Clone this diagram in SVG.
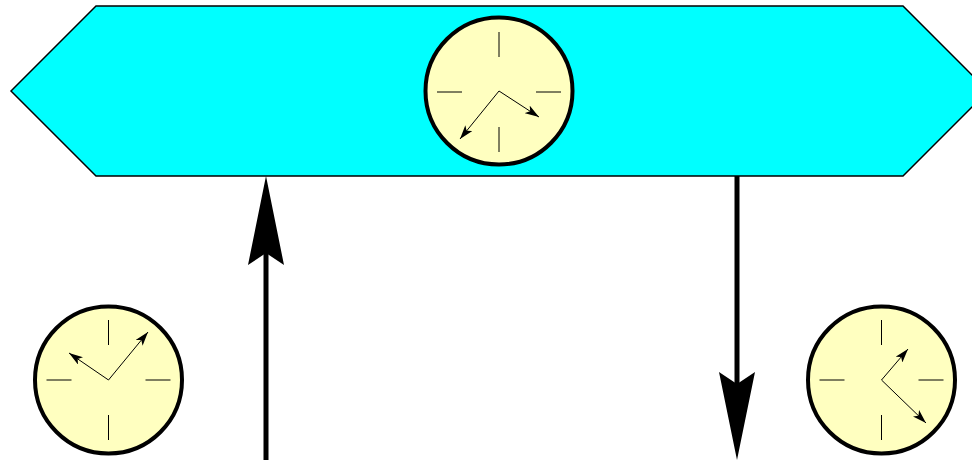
<svg xmlns="http://www.w3.org/2000/svg" width="972" height="460" viewBox="0 0 972 460">
<style>
.face{fill:#FFFFC0;stroke:#000;stroke-width:4}
.tick{stroke:#000;stroke-width:1}
.hand{stroke:#000;stroke-width:1;fill:none;marker-end:url(#sm)}
.big{stroke:#000;stroke-width:5;fill:none}
.head{fill:#000;stroke:none}
</style>
<defs>
<marker id="sm" viewBox="0 0 14 9" refX="14" refY="4.5" markerWidth="14" markerHeight="9" markerUnits="userSpaceOnUse" orient="auto">
<path d="M0,0 L14,4.5 L0,9 L3.5,4.5 Z" fill="#000"/>
</marker>
<g id="ticks">
<line class="tick" x1="0" y1="-60" x2="0" y2="-35"/>
<line class="tick" x1="0" y1="35" x2="0" y2="60"/>
<line class="tick" x1="-62" y1="0" x2="-37" y2="0"/>
<line class="tick" x1="37" y1="0" x2="62" y2="0"/>
</g>
</defs>
<g id="hexagon">
<polygon points="11,91 96,6 903,6 988,91 903,176 96,176" fill="#00FFFF" stroke="#000" stroke-width="1.5"/>
</g>
<g id="clock-top">
<circle class="face" cx="499" cy="91" r="73.5"/>
<use href="#ticks" x="499" y="92"/>
<line class="hand" x1="499" y1="91" x2="460" y2="139"/>
<line class="hand" x1="499" y1="91" x2="539" y2="117"/>
</g>
<g id="clock-left">
<circle class="face" cx="108.5" cy="380" r="73.5"/>
<use href="#ticks" x="108.5" y="380"/>
<line class="hand" x1="108.5" y1="380" x2="69" y2="353"/>
<line class="hand" x1="108.5" y1="380" x2="148" y2="332"/>
</g>
<g id="clock-right">
<circle class="face" cx="881.5" cy="380" r="73.5"/>
<use href="#ticks" x="881.5" y="380"/>
<line class="hand" x1="881.5" y1="380" x2="908" y2="349"/>
<line class="hand" x1="881.5" y1="380" x2="926" y2="423"/>
</g>
<g id="connectors">
<line class="big" x1="266" y1="460" x2="266" y2="250"/>
<path class="head" d="M266,176 L284,265 L266,253 L248,265 Z"/>
<line class="big" x1="737" y1="176" x2="737" y2="385"/>
<path class="head" d="M737,460 L755,372 L737,384 L719,372 Z"/>
</g>
</svg>
